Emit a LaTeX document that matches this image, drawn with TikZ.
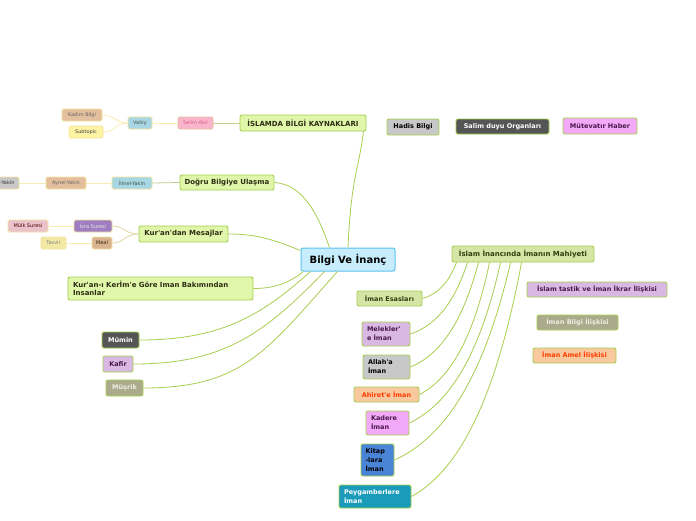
\documentclass[tikz,border=0pt]{standalone}
\usepackage{fontspec}
\setmainfont{DejaVu Sans}
\usetikzlibrary{calc}
\definecolor{lg}{HTML}{E0F6AA}
\definecolor{lgb}{HTML}{A6D04E}
\definecolor{conn}{HTML}{A9CD4F}
\definecolor{mahf}{HTML}{D5E5A6}
\definecolor{cfill}{HTML}{C7ECFC}
\definecolor{cbdr}{HTML}{5EC3EE}
\definecolor{gry}{HTML}{C8C8C8}
\definecolor{dgry}{HTML}{555555}
\definecolor{lpur}{HTML}{D9B9E3}
\definecolor{olv}{HTML}{ABAB8C}
\definecolor{peach}{HTML}{F8C89F}
\definecolor{pinkv}{HTML}{F2A9F8}
\definecolor{blu}{HTML}{4A84D6}
\definecolor{tealc}{HTML}{1B9BBA}
\definecolor{ybdr}{HTML}{F5E3A0}
\definecolor{yline}{HTML}{F8EDB0}
\definecolor{oline}{HTML}{C9C98E}
\definecolor{tline}{HTML}{E2D6A2}
\definecolor{dtext}{HTML}{2E2E14}
\definecolor{dpur}{HTML}{4A1A4A}
\definecolor{redt}{HTML}{FF3C00}
\definecolor{lighttext}{HTML}{EDEDE5}
\definecolor{pinkf}{HTML}{F9B6CA}
\definecolor{pinkt}{HTML}{D85A88}
\definecolor{ltblue}{HTML}{A7D7E3}
\definecolor{tan}{HTML}{E3BF9E}
\definecolor{yel}{HTML}{FFF4A3}
\definecolor{purp}{HTML}{9E7DC0}
\definecolor{pinkl}{HTML}{E9C2CB}
\definecolor{tan2}{HTML}{D9B38F}
\definecolor{yel2}{HTML}{F1E9A4}
\definecolor{dgreen}{HTML}{2E4010}
\newcommand{\fmain}{\bfseries\fontsize{7}{8.5}\selectfont}
\newcommand{\fmid}{\bfseries\fontsize{6.5}{9}\selectfont}
\newcommand{\fsm}{\fontsize{5}{6}\selectfont}
\newcommand{\ap}{\textquotesingle}
\tikzset{
  x=1pt,y=-1pt,
  nb/.style={draw=lgb, line width=0.9pt, rounded corners=2pt, inner sep=0pt, text=dtext, fill=lg},
  mainbox/.style={nb, font=\fmain},
  midbox/.style={nb, font=\fmid},
  subbox/.style={draw=ybdr, line width=0.8pt, rounded corners=1.5pt, inner sep=0pt, font=\fsm},
  conn/.style={draw=conn, line width=0.8pt},
  yconn/.style={draw=yline, line width=0.8pt},
  oconn/.style={draw=oline, line width=0.8pt},
  tconn/.style={draw=tline, line width=0.8pt},
}
\begin{document}
\begin{tikzpicture}
\useasboundingbox[fill=white] (0,0) rectangle (696,520);
% center
\node[draw=cbdr, fill=cfill, line width=1pt, rounded corners=2pt, minimum width=94pt, minimum height=23pt, font=\bfseries\fontsize{10}{12}\selectfont, text=black] (c) at (348,259.5) {Bilgi Ve İnanç};
% top-left branch
\node[mainbox, minimum width=126pt, minimum height=16pt] (islam) at (303,123) {İSLAMDA BİLGİ KAYNAKLARI};
\node[subbox, fill=pinkf, text=pinkt, draw=tan, minimum width=35pt, minimum height=12pt] (selim) at (195.5,123) {Selim Akıl};
\node[subbox, fill=ltblue, text=black!70, minimum width=24pt, minimum height=12pt] (vahiy) at (140,123) {Vahiy};
\node[subbox, fill=tan, text=black!60, minimum width=40pt, minimum height=12pt] (kadim) at (82,115) {Kadim Bilgi};
\node[subbox, fill=yel, text=black!75, minimum width=34pt, minimum height=12pt] (subt) at (86,132) {Subtopic};
% dogru
\node[mainbox, minimum width=94pt, minimum height=15pt] (dogru) at (227,182.5) {Doğru Bilgiye Ulaşma};
\node[subbox, fill=ltblue, text=black!70, minimum width=40pt, minimum height=12pt] (ilmel) at (132,183) {İlmel-Yakin};
\node[subbox, fill=tan, text=black!60, minimum width=40pt, minimum height=12pt] (aynel) at (66,183) {Aynel-Yakin};
\node[subbox, fill=gry, text=black!80, minimum width=40pt, minimum height=12pt] (hakkel) at (-1,183) {Hakkel-Yakin};
% kuran
\node[mainbox, minimum width=89pt, minimum height=16pt] (kuran) at (183.5,234) {Kur\ap an\ap dan Mesajlar};
\node[subbox, fill=purp, text=lighttext, minimum width=38pt, minimum height=12pt] (isra) at (93,226) {İsra Suresi};
\node[subbox, fill=pinkl, text=black!70!red, minimum width=40pt, minimum height=12pt] (mulk) at (28,226) {Mülk Suresi};
\node[subbox, fill=tan2, text=black!75!brown, minimum width=20pt, minimum height=12pt] (meal) at (102,243) {Meal};
\node[subbox, fill=yel2, text=black!50, minimum width=25pt, minimum height=12pt] (tasvir) at (53.5,243) {Tasvir};
% kerim
\node[mainbox, minimum height=23pt, text width=175pt, inner xsep=5pt, align=left] (kerim) at (160.5,288.5) {Kur\ap an-ı Kerİm\ap e Göre Iman Bakımından\\Insanlar};
\node[midbox, fill=dgry, text=white, minimum width=37pt, minimum height=16pt] (mumin) at (120.5,340) {Mümin};
\node[midbox, fill=lpur, text=dpur, minimum width=30pt, minimum height=16pt] (kafir) at (118,364) {Kafir};
\node[midbox, fill=olv, text=lighttext, minimum width=37pt, minimum height=16pt] (musrik) at (124.5,388) {Müşrik};
% top right floating
\node[midbox, fill=gry, text=black, minimum width=52pt, minimum height=16pt] (hadis) at (413,127) {Hadis Bilgi};
\node[midbox, fill=dgry, text=white, minimum width=93pt, minimum height=15pt] (salim) at (502.5,126.5) {Salim duyu Organları};
\node[midbox, fill=pinkv, text=dpur, minimum width=74pt, minimum height=16pt] (mutev) at (600,126) {Mütevatır Haber};
% mahiyet
\node[mainbox, fill=mahf, text=dgreen, minimum width=142pt, minimum height=16pt] (mah) at (523,254) {İslam İnancında İmanın Mahiyeti};
\node[midbox, fill=lpur, text=dpur, minimum width=140pt, minimum height=15pt] (tastik) at (597,289.5) {İslam tastik ve İman İkrar İlişkisi};
\node[midbox, fill=olv, text=lighttext, minimum width=81pt, minimum height=15pt] (ibilgi) at (577.5,322.5) {İman Bilgi İlişkisi};
\node[midbox, fill=peach, text=redt, minimum width=83pt, minimum height=15pt] (iamel) at (574.5,355.5) {İman Amel İlişkisi};
% children
\node[midbox, fill=mahf, text=dgreen, minimum width=65pt, minimum height=15pt] (esas) at (389.5,298.5) {İman Esasları};
\node[midbox, fill=lpur, text=dpur, minimum height=24pt, text width=38pt, inner xsep=5pt, align=left] (melek) at (386,334) {Melekler\ap\\e İman};
\node[midbox, fill=gry, text=black, minimum height=24pt, text width=37pt, inner xsep=5pt, align=left] (allah) at (386.5,367) {Allah\ap a\\İman};
\node[midbox, fill=peach, text=redt, minimum width=65pt, minimum height=15pt] (ahiret) at (386.5,394.5) {Ahiret\ap e İman};
\node[midbox, fill=pinkv, text=dpur, minimum height=24pt, text width=33pt, inner xsep=5pt, align=left] (kadere) at (387.5,423) {Kadere\\İman};
\node[midbox, fill=blu, text=black, minimum height=32pt, text width=24pt, inner xsep=4.5pt, align=left] (kitap) at (377.5,460) {Kitap\\-lara\\İman};
\node[midbox, fill=tealc, text=white, minimum height=23pt, text width=62pt, inner xsep=5pt, align=left] (peyg) at (375,496.5) {Peygamberlere\\İman};
% connectors from center
\draw[conn] (c.north) .. controls +(3,-70) and +(-4,35) .. ($(islam.south east)+(-3,0)$);
\draw[conn] ($(c.north west)+(29,0)$) .. controls +(-12,-35) and +(28,2) .. (dogru.east);
\draw[conn] ($(c.north west)+(0,3)$) .. controls +(-25,-10) and +(30,0) .. (kuran.east);
\draw[conn] ($(c.south west)+(3,0)$) .. controls +(-15,12) and +(20,0) .. (kerim.east);
\draw[conn] ($(c.south west)+(10,0)$) .. controls +(-50,45) and +(80,0) .. (mumin.east);
\draw[conn] ($(c.south west)+(24,0)$) .. controls +(-60,62) and +(90,0) .. (kafir.east);
\draw[conn] ($(c.south west)+(37,0)$) .. controls +(-70,78) and +(100,0) .. (musrik.east);
% sub connectors
\draw[oconn] (islam.west) -- (selim.east);
\draw[yconn] (selim.west) -- (vahiy.east);
\draw[yconn] (vahiy.west) .. controls +(-12,0) and +(12,0) .. (kadim.east);
\draw[yconn] (vahiy.west) .. controls +(-12,0) and +(12,0) .. (subt.east);
\draw[oconn] (dogru.west) -- (ilmel.east);
\draw[yconn] (ilmel.west) -- (aynel.east);
\draw[yconn] (aynel.west) -- (hakkel.east);
\draw[tconn] (kuran.west) .. controls +(-14,0) and +(12,0) .. (isra.east);
\draw[tconn] (kuran.west) .. controls +(-14,0) and +(12,0) .. (meal.east);
\draw[yconn] (isra.west) -- (mulk.east);
\draw[yconn] (meal.west) -- (tasvir.east);
% mahiyet children
\draw[conn] ($(mah.south west)+(5,0)$) .. controls +(-7,18) and +(17,-5) .. (esas.east);
\draw[conn] ($(mah.south west)+(16,0)$) .. controls +(-12,36) and +(29,-10) .. (melek.east);
\draw[conn] ($(mah.south west)+(27,0)$) .. controls +(-14,52) and +(34,-14) .. (allah.east);
\draw[conn] ($(mah.south west)+(38,0)$) .. controls +(-14,66) and +(35,-18) .. (ahiret.east);
\draw[conn] ($(mah.south west)+(49,0)$) .. controls +(-18,80) and +(46,-22) .. (kadere.east);
\draw[conn] ($(mah.south west)+(59,0)$) .. controls +(-23,99) and +(58,-26) .. (kitap.east);
\draw[conn] ($(mah.south west)+(70,0)$) .. controls +(-22,117) and +(55,-30) .. (peyg.east);
\end{tikzpicture}
\end{document}
